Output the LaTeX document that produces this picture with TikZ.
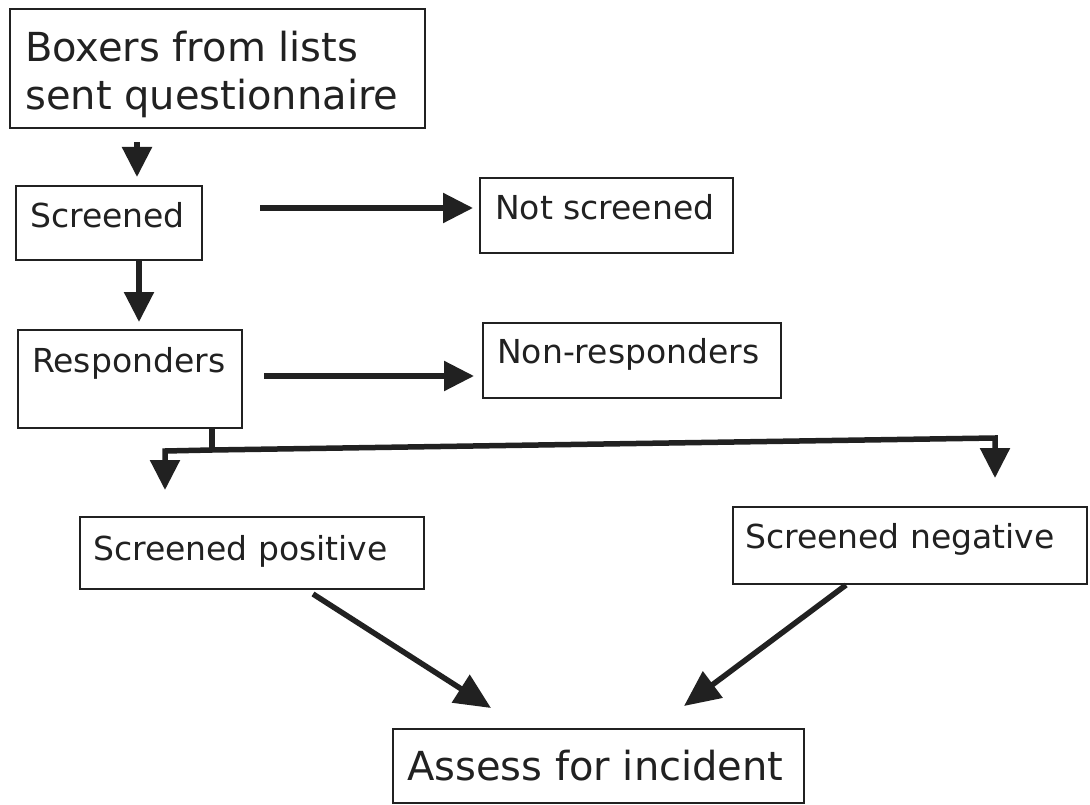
\documentclass[tikz,border=0pt]{standalone}
\usepackage{fontspec}
\setmainfont{DejaVu Sans}
\usetikzlibrary{arrows.meta}
\definecolor{ink}{gray}{0.13}
\begin{document}
\begin{tikzpicture}[x=1pt,y=-1pt,
  box/.style={draw=ink, line width=2.2pt, rectangle, inner sep=0pt, anchor=north west},
  txt/.style={anchor=base west, inner sep=0pt, text=ink},
  big/.style={txt, font=\fontsize{40}{48}\selectfont},
  med/.style={txt, font=\fontsize{33}{40}\selectfont},
  arr/.style={draw=ink, line width=5.5pt, line join=miter, -{Triangle[length=30pt,width=29pt]}},
  bigarr/.style={arr, -{Triangle[length=36pt,width=32pt]}},
  ln/.style={draw=ink, line width=5.5pt}]
\useasboundingbox (0,0) rectangle (1090,805);
\fill[white] (0,0) rectangle (1090,805);
% boxes
\node[box, minimum width=415pt, minimum height=119pt] (b1) at (9,8) {};
\node[box, minimum width=186pt, minimum height=74pt] (scr) at (15,185) {};
\node[box, minimum width=253pt, minimum height=75pt] (nots) at (479,177) {};
\node[box, minimum width=224pt, minimum height=98pt] (resp) at (17,329) {};
\node[box, minimum width=298pt, minimum height=75pt] (nonr) at (482,322) {};
\node[box, minimum width=344pt, minimum height=72pt] (pos) at (79,516) {};
\node[box, minimum width=354pt, minimum height=77pt] (neg) at (732,506) {};
\node[box, minimum width=411pt, minimum height=74pt] (asr) at (392,728) {};
% texts
\node[big] (t1a) at (25,62) {Boxers from lists};
\node[big] (t1b) at (25,110) {sent questionnaire};
\node[med] (tscr) at (30,228) {Screened};
\node[med] (tnots) at (495,220) {Not screened};
\node[med] (tresp) at (32,372) {Responders};
\node[med] (tnonr) at (497,363) {Non-responders};
\node[med] (tpos) at (93,560) {Screened positive};
\node[med] (tneg) at (745,548) {Screened negative};
\node[big] (tasr) at (407,780) {Assess for incident};
% connectors
\draw[arr, shorten <=13pt, shorten >=8pt] (b1.south -| 137,0) -- (scr.north -| 137,0);
\draw[arr, shorten >=7pt] (scr.south -| 139,0) -- (resp.north -| 139,0);
\draw[arr, shorten <=57pt, shorten >=6pt] (scr.east |- 0,208) -- (nots.west |- 0,208);
\draw[arr, shorten <=21pt, shorten >=8pt] (resp.east |- 0,376) -- (nonr.west |- 0,376);
\coordinate (j) at (212,450);
\coordinate (jl) at (165,451);
\coordinate (jr) at (995,438);
\draw[ln] (resp.south -| j) -- (j);
\draw[arr, shorten >=26pt] (j) -- (jl) -- (pos.north -| jl);
\draw[arr, shorten >=28pt] (j) -- (jr) -- (neg.north -| jr);
\coordinate (d1s) at (313,594);
\coordinate (d1e) at (491,708);
\coordinate (d2s) at (846,585);
\coordinate (d2e) at (684,706);
\draw[bigarr] (d1s) -- (d1e);
\draw[bigarr] (d2s) -- (d2e);
\end{tikzpicture}
\end{document}
